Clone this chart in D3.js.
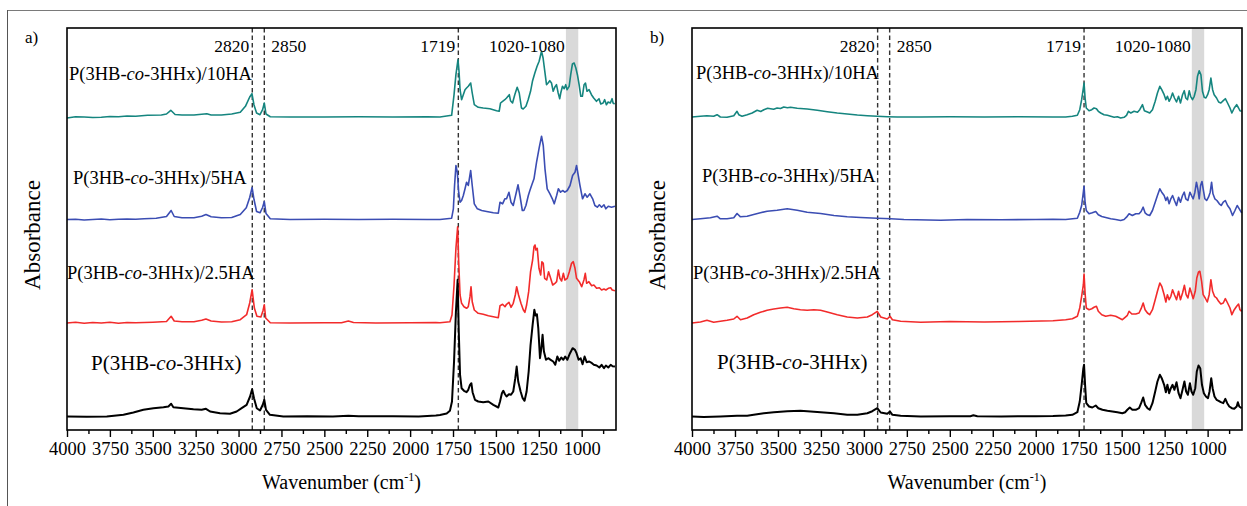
<!DOCTYPE html>
<html>
<head>
<meta charset="utf-8">
<script src="https://cdn.jsdelivr.net/npm/d3@7"></script>
<style>
  body { margin: 0; background: #fff; }
  svg { display: block; }
  text { font-family: "Liberation Serif", "Times New Roman", serif; fill: #000; }
</style>
</head>
<body>
<svg id="chart" width="1247" height="506"></svg>
<script>
// ---------- FTIR spectra: [wavenumber (cm-1), absorbance (a.u., baseline-corrected)] ----------

// a) films
const aNeat = [[4000,0],[3885,-0.003],[3768,0],[3671,0.017],[3613,0.04],[3555,0.067],[3496,0.083],[3438,0.093],[3409,0.1],[3393,0.127],[3380,0.093],[3322,0.083],[3263,0.073],[3215,0.067],[3190,0.077],[3166,0.05],[3108,0.033],[3050,0.027],[3011,0.05],[2982,0.083],[2953,0.117],[2933,0.2],[2921,0.273],[2910,0.183],[2894,0.083],[2875,0.06],[2859,0.117],[2850,0.167],[2840,0.067],[2817,0.017],[2739,0],[2600,0.003],[2450,0],[2360,0.008],[2300,0.002],[2100,0.003],[1950,0],[1850,0.01],
  [1826,0.015],[1787,0.03],[1768,0.057],[1756,0.15],[1744,0.55],[1733,1.05],[1723,1.367],[1717,0.883],[1709,0.417],[1700,0.283],[1686,0.257],[1671,0.243],[1661,0.267],[1651,0.317],[1643,0.333],[1636,0.243],[1622,0.167],[1603,0.15],[1574,0.143],[1544,0.15],[1515,0.117],[1486,0.09],[1476,0.15],[1465,0.233],[1457,0.257],[1447,0.223],[1438,0.2],[1424,0.223],[1412,0.217],[1399,0.25],[1387,0.383],[1379,0.5],[1370,0.35],[1356,0.25],[1344,0.183],[1333,0.157],[1321,0.25],[1309,0.45],[1298,0.717],[1286,0.917],[1276,1.067],[1269,1.01],[1261,1.023],[1253,0.883],[1243,0.583],[1235,0.683],[1228,0.817],[1220,0.65],[1208,0.567],[1195,0.583],[1181,0.567],[1166,0.55],[1154,0.517],[1142,0.6],[1131,0.557],[1119,0.59],[1107,0.567],[1096,0.6],[1084,0.567],[1068,0.633],[1053,0.683],[1039,0.667],[1030,0.633],[1018,0.567],[1006,0.583],[995,0.523],[983,0.6],[971,0.543],[956,0.55],[940,0.533],[929,0.517],[913,0.51],[897,0.49],[884,0.517],[870,0.483],[859,0.51],[845,0.49],[831,0.517],[820,0.503],[806,0.5]];

const aHA25 = [[4000,0],[3950,0.007],[3900,-0.003],[3850,0.005],[3800,0],[3750,0.007],[3700,-0.003],[3650,0.005],[3600,0.003],[3500,0.008],[3420,0.015],[3393,0.067],[3375,0.02],[3330,0.013],[3260,0.013],[3215,0.027],[3190,0.04],[3160,0.02],[3100,0.01],[3040,0.012],[2990,0.033],[2953,0.083],[2935,0.2],[2921,0.333],[2908,0.15],[2893,0.067],[2870,0.06],[2858,0.12],[2850,0.183],[2842,0.05],[2815,0.003],[2700,0],[2500,0.003],[2400,0.003],[2360,0.02],[2330,0.005],[2200,0],[2000,0.003],[1850,0.005],
  [1826,0.003],[1768,0.013],[1756,0.08],[1744,0.38],[1733,0.747],[1723,0.963],[1717,0.613],[1709,0.28],[1700,0.197],[1686,0.163],[1671,0.147],[1661,0.163],[1651,0.263],[1645,0.363],[1638,0.213],[1626,0.13],[1603,0.097],[1574,0.087],[1544,0.073],[1515,0.063],[1486,0.053],[1476,0.173],[1461,0.187],[1447,0.163],[1438,0.187],[1424,0.207],[1412,0.157],[1399,0.197],[1387,0.28],[1379,0.363],[1368,0.28],[1354,0.197],[1340,0.13],[1331,0.107],[1321,0.18],[1309,0.313],[1298,0.513],[1286,0.63],[1278,0.763],[1272,0.78],[1267,0.73],[1259,0.747],[1249,0.547],[1239,0.48],[1232,0.613],[1224,0.597],[1216,0.447],[1204,0.43],[1193,0.513],[1181,0.447],[1169,0.38],[1156,0.397],[1146,0.413],[1136,0.53],[1127,0.447],[1117,0.42],[1107,0.497],[1098,0.43],[1084,0.447],[1072,0.513],[1059,0.597],[1049,0.613],[1039,0.547],[1030,0.447],[1014,0.413],[1000,0.363],[987,0.43],[979,0.497],[971,0.397],[958,0.413],[942,0.373],[929,0.38],[913,0.347],[897,0.353],[884,0.33],[870,0.34],[859,0.33],[845,0.347],[831,0.353],[822,0.33],[806,0.323]];

const aHA5 = [[4000,0],[3950,0.003],[3900,-0.005],[3850,0],[3800,0.005],[3750,-0.003],[3700,0.003],[3650,0.005],[3600,0.003],[3550,0.008],[3480,0.013],[3420,0.03],[3393,0.09],[3375,0.03],[3330,0.017],[3260,0.017],[3215,0.033],[3190,0.05],[3160,0.027],[3100,0.017],[3040,0.02],[2990,0.05],[2955,0.117],[2935,0.22],[2921,0.32],[2910,0.2],[2895,0.08],[2875,0.067],[2860,0.12],[2850,0.18],[2840,0.06],[2815,0.007],[2700,0],[2500,0.003],[2300,0],[2100,0.003],[1900,0],
  [1826,0],[1758,0.013],[1748,0.107],[1741,0.34],[1733,0.54],[1725,0.473],[1717,0.273],[1709,0.173],[1700,0.19],[1690,0.24],[1680,0.307],[1671,0.373],[1661,0.34],[1647,0.49],[1638,0.34],[1626,0.157],[1608,0.107],[1583,0.09],[1554,0.08],[1515,0.067],[1486,0.063],[1476,0.173],[1461,0.157],[1448,0.207],[1438,0.207],[1424,0.273],[1412,0.173],[1399,0.14],[1383,0.257],[1371,0.347],[1360,0.24],[1346,0.09],[1337,0.09],[1325,0.14],[1311,0.24],[1302,0.29],[1292,0.34],[1278,0.407],[1263,0.573],[1247,0.723],[1234,0.833],[1224,0.74],[1214,0.507],[1201,0.307],[1185,0.257],[1171,0.207],[1160,0.157],[1146,0.24],[1136,0.307],[1123,0.273],[1111,0.29],[1098,0.273],[1084,0.29],[1068,0.34],[1053,0.44],[1039,0.473],[1030,0.54],[1020,0.44],[1010,0.34],[995,0.207],[981,0.257],[968,0.223],[952,0.257],[936,0.207],[923,0.14],[909,0.123],[897,0.147],[884,0.123],[870,0.147],[859,0.107],[845,0.133],[826,0.123],[806,0.133]];

const aHA10 = [[4000,-0.01],[3950,0.003],[3900,0],[3850,-0.005],[3800,-0.003],[3750,0.005],[3700,0.003],[3650,0.01],[3600,0.007],[3530,0.017],[3450,0.02],[3420,0.03],[3395,0.067],[3370,0.025],[3330,0.02],[3260,0.02],[3200,0.03],[3185,0.033],[3160,0.02],[3100,0.02],[3040,0.03],[2990,0.047],[2960,0.107],[2935,0.2],[2922,0.233],[2910,0.12],[2895,0.04],[2875,0.023],[2860,0.073],[2850,0.14],[2840,0.03],[2815,0.003],[2700,0],[2500,0],[2300,0.003],[2100,0],[1900,0.003],
  [1826,0],[1758,0.017],[1744,0.223],[1733,0.423],[1721,0.573],[1715,0.457],[1709,0.273],[1700,0.173],[1690,0.223],[1680,0.273],[1671,0.29],[1661,0.307],[1647,0.34],[1638,0.24],[1626,0.123],[1603,0.097],[1574,0.09],[1535,0.083],[1496,0.063],[1481,0.057],[1473,0.14],[1461,0.157],[1448,0.173],[1438,0.19],[1422,0.223],[1415,0.163],[1403,0.14],[1390,0.223],[1376,0.297],[1364,0.24],[1351,0.09],[1341,0.08],[1325,0.107],[1312,0.173],[1298,0.257],[1287,0.357],[1273,0.44],[1260,0.507],[1248,0.557],[1234,0.657],[1225,0.59],[1215,0.457],[1205,0.323],[1196,0.34],[1186,0.363],[1176,0.34],[1166,0.257],[1157,0.297],[1147,0.323],[1137,0.24],[1128,0.183],[1122,0.24],[1112,0.307],[1102,0.283],[1093,0.323],[1085,0.273],[1073,0.307],[1064,0.423],[1054,0.53],[1044,0.54],[1034,0.49],[1025,0.423],[1015,0.323],[1005,0.207],[996,0.207],[986,0.323],[978,0.34],[969,0.257],[957,0.273],[943,0.223],[930,0.19],[914,0.157],[899,0.183],[889,0.13],[875,0.14],[866,0.173],[856,0.123],[846,0.15],[833,0.14],[823,0.183],[817,0.14],[808,0.13]];

// b) second set of samples
const bNeat = [[4000,0],[3932,-0.005],[3835,0],[3738,0.007],[3679,0.007],[3641,0.017],[3582,0.033],[3524,0.043],[3446,0.053],[3369,0.057],[3310,0.05],[3252,0.043],[3174,0.033],[3097,0.017],[3038,0.017],[2980,0.033],[2951,0.053],[2922,0.083],[2902,0.04],[2864,0.027],[2848,0.05],[2834,0.017],[2786,0.007],[2669,0],[2500,0.003],[2380,0.003],[2363,0.012],[2340,0.002],[2200,0],[2000,0.003],[1900,0.005],
  [1826,0.01],[1787,0.017],[1758,0.043],[1744,0.15],[1733,0.317],[1723,0.483],[1719,0.517],[1713,0.317],[1706,0.133],[1690,0.1],[1671,0.09],[1651,0.11],[1636,0.083],[1612,0.067],[1583,0.057],[1554,0.05],[1525,0.043],[1496,0.033],[1480,0.043],[1467,0.067],[1453,0.09],[1438,0.067],[1418,0.067],[1399,0.083],[1387,0.133],[1375,0.19],[1364,0.117],[1350,0.083],[1337,0.067],[1321,0.133],[1305,0.25],[1292,0.35],[1278,0.417],[1267,0.383],[1253,0.317],[1243,0.243],[1234,0.317],[1224,0.233],[1214,0.283],[1204,0.317],[1193,0.267],[1181,0.343],[1169,0.233],[1158,0.183],[1146,0.267],[1135,0.35],[1125,0.25],[1115,0.217],[1103,0.333],[1094,0.25],[1084,0.217],[1072,0.283],[1063,0.45],[1053,0.51],[1043,0.483],[1033,0.317],[1022,0.233],[1010,0.2],[998,0.183],[989,0.25],[979,0.383],[971,0.283],[960,0.2],[948,0.167],[936,0.157],[923,0.143],[909,0.133],[897,0.177],[886,0.133],[874,0.1],[859,0.083],[845,0.077],[831,0.1],[824,0.143],[816,0.1],[802,0.083]];

const bHA25 = [[4000,0],[3951,0.01],[3913,0.027],[3874,0.007],[3835,0.017],[3796,0.027],[3757,0.04],[3738,0.067],[3718,0.033],[3679,0.05],[3641,0.083],[3602,0.107],[3563,0.127],[3524,0.14],[3485,0.15],[3446,0.157],[3408,0.143],[3369,0.133],[3330,0.127],[3291,0.133],[3252,0.127],[3213,0.11],[3155,0.083],[3097,0.06],[3038,0.05],[2980,0.06],[2951,0.083],[2922,0.117],[2902,0.06],[2864,0.04],[2848,0.067],[2834,0.033],[2786,0.017],[2669,0.007],[2500,0.015],[2300,0.01],[2100,0.015],[1900,0.022],
  [1826,0.033],[1787,0.043],[1758,0.067],[1744,0.15],[1733,0.267],[1723,0.383],[1719,0.49],[1713,0.3],[1706,0.15],[1690,0.133],[1674,0.143],[1661,0.157],[1647,0.167],[1636,0.117],[1616,0.083],[1593,0.067],[1564,0.077],[1535,0.067],[1515,0.05],[1496,0.033],[1480,0.057],[1467,0.077],[1457,0.117],[1441,0.09],[1418,0.09],[1399,0.1],[1387,0.143],[1375,0.2],[1364,0.133],[1350,0.1],[1337,0.083],[1321,0.133],[1305,0.233],[1292,0.317],[1278,0.4],[1267,0.367],[1253,0.283],[1243,0.21],[1234,0.283],[1224,0.233],[1214,0.267],[1204,0.333],[1193,0.283],[1181,0.233],[1169,0.317],[1158,0.233],[1146,0.3],[1135,0.377],[1125,0.283],[1115,0.25],[1103,0.35],[1094,0.3],[1084,0.243],[1072,0.317],[1063,0.45],[1053,0.51],[1045,0.517],[1035,0.417],[1026,0.283],[1014,0.25],[1002,0.21],[991,0.283],[981,0.433],[971,0.317],[960,0.267],[948,0.25],[936,0.217],[923,0.19],[909,0.2],[897,0.243],[884,0.2],[870,0.15],[859,0.083],[845,0.133],[831,0.167],[820,0.19],[812,0.133],[802,0.117]];

const bHA5 = [[4000,0],[3951,0.007],[3893,0.017],[3854,0.033],[3835,0.007],[3796,0.007],[3757,0.017],[3738,0.06],[3718,0.027],[3679,0.033],[3641,0.05],[3602,0.067],[3563,0.083],[3505,0.093],[3446,0.107],[3388,0.093],[3330,0.073],[3252,0.06],[3174,0.04],[3097,0.027],[3019,0.02],[2922,0.013],[2844,0.007],[2767,0],[2553,-0.007],[2400,0],[2200,-0.003],[2000,0],[1900,0.003],
  [1826,0],[1758,0.013],[1744,0.073],[1733,0.14],[1723,0.273],[1719,0.333],[1713,0.173],[1706,0.09],[1690,0.057],[1671,0.067],[1651,0.08],[1636,0.047],[1616,0.03],[1593,0.02],[1564,0.007],[1535,0],[1506,-0.01],[1486,0],[1472,0.023],[1457,0.057],[1438,0.04],[1418,0.057],[1399,0.057],[1387,0.08],[1375,0.123],[1364,0.067],[1350,0.047],[1337,0.04],[1321,0.09],[1305,0.173],[1292,0.24],[1278,0.307],[1267,0.273],[1253,0.24],[1243,0.19],[1234,0.223],[1224,0.157],[1214,0.207],[1204,0.24],[1193,0.19],[1181,0.14],[1169,0.223],[1158,0.173],[1146,0.24],[1136,0.273],[1127,0.207],[1115,0.19],[1103,0.273],[1094,0.24],[1084,0.207],[1074,0.273],[1065,0.373],[1057,0.307],[1049,0.207],[1041,0.34],[1033,0.38],[1026,0.307],[1016,0.207],[1006,0.19],[995,0.223],[985,0.273],[977,0.373],[969,0.257],[958,0.207],[946,0.19],[932,0.157],[921,0.14],[909,0.173],[897,0.19],[884,0.14],[870,0.107],[855,0.04],[841,0.09],[828,0.14],[816,0.107],[802,0.067]];

const bHA10 = [[4000,0],[3951,0.007],[3913,0.013],[3874,0.007],[3854,0.023],[3835,0],[3796,-0.003],[3757,0.013],[3738,0.057],[3728,0.023],[3709,0.007],[3679,0.023],[3650,0.04],[3621,0.067],[3600,0.055],[3582,0.073],[3560,0.088],[3543,0.083],[3525,0.078],[3505,0.09],[3485,0.085],[3466,0.1],[3445,0.093],[3427,0.097],[3388,0.087],[3330,0.08],[3271,0.067],[3213,0.053],[3155,0.04],[3097,0.03],[3038,0.02],[2980,0.013],[2922,0.007],[2864,0.003],[2805,0],[2669,0],[2500,0.003],[2300,0],[2100,0.003],[1900,0],
  [1826,0],[1787,0.007],[1758,0.017],[1744,0.073],[1733,0.173],[1723,0.29],[1719,0.34],[1713,0.19],[1706,0.09],[1690,0.063],[1674,0.073],[1661,0.09],[1647,0.083],[1636,0.057],[1622,0.04],[1603,0.023],[1583,0.017],[1564,0.007],[1544,-0.003],[1525,0.003],[1506,-0.01],[1486,-0.003],[1472,0.017],[1461,0.057],[1447,0.04],[1428,0.057],[1408,0.047],[1395,0.073],[1379,0.123],[1368,0.063],[1350,0.05],[1337,0.04],[1321,0.073],[1305,0.157],[1292,0.24],[1278,0.307],[1267,0.273],[1253,0.223],[1243,0.173],[1234,0.207],[1224,0.157],[1214,0.19],[1204,0.24],[1193,0.19],[1181,0.15],[1169,0.207],[1158,0.14],[1146,0.223],[1136,0.263],[1127,0.19],[1117,0.173],[1107,0.263],[1099,0.207],[1088,0.173],[1078,0.207],[1068,0.273],[1059,0.407],[1049,0.463],[1039,0.423],[1030,0.257],[1020,0.197],[1010,0.19],[1000,0.223],[991,0.273],[981,0.39],[971,0.273],[962,0.223],[948,0.19],[936,0.15],[923,0.14],[909,0.163],[897,0.183],[884,0.14],[870,0.09],[859,0.04],[845,0.09],[831,0.123],[820,0.09],[812,0.063],[802,0.057]];

// ---------- labels, ticks, markers ----------
const sampleNames = ["P(3HB-co-3HHx)", "P(3HB-co-3HHx)/2.5HA", "P(3HB-co-3HHx)/5HA", "P(3HB-co-3HHx)/10HA"];
const sampleColors = ["#000000", "#f22b2b", "#3b4db3", "#15857f"];
const stackOffsets = [0.135, 1.07, 2.105, 3.13];   // vertical offset for each stacked trace
const majorTicks = [4000, 3750, 3500, 3250, 3000, 2750, 2500, 2250, 2000, 1750, 1500, 1250, 1000];
const minorTicks = [3875, 3625, 3375, 3125, 2875, 2625, 2375, 2125, 1875, 1625, 1375, 1125, 875];
const bandMarkers = [2920, 2850, 1719];              // dashed guide lines
const bandLabels = ["2820", "2850", "1719"];
const shadedRegion = [1092, 1020];
const shadedLabel = "1020-1080";

const panels = [
  { tag: "a)", series: [aNeat, aHA25, aHA5, aHA10], left: 67, right: 616,
    nameX: [91, 67, 73, 69], nameY: [370, 279, 184, 80] },
  { tag: "b)", series: [bNeat, bHA25, bHA5, bHA10], left: 692, right: 1242,
    nameX: [717, 693, 702, 696], nameY: [369, 279, 182, 79] }
];
const plotTop = 28, plotBottom = 430;

const svg = d3.select("#chart");

// page border lines
svg.append("line").attr("x1", 7).attr("x2", 1247).attr("y1", 10.5).attr("y2", 10.5)
  .attr("stroke", "#7a7a7a").attr("stroke-width", 1);
svg.append("line").attr("x1", 7.5).attr("x2", 7.5).attr("y1", 10).attr("y2", 506)
  .attr("stroke", "#555").attr("stroke-width", 1);

panels.forEach(p => {
  const g = svg.append("g");
  const x = d3.scaleLinear().domain([4000, 800]).range([p.left, p.right]);
  const y = d3.scaleLinear().domain([0, 4.02]).range([plotBottom, plotTop]);

  // shaded band
  g.append("rect")
    .attr("x", x(shadedRegion[0])).attr("width", x(shadedRegion[1]) - x(shadedRegion[0]))
    .attr("y", plotTop).attr("height", plotBottom - plotTop)
    .attr("fill", "#d9d9d9");

  // dashed guide lines
  bandMarkers.forEach(v => {
    g.append("line")
      .attr("x1", x(v)).attr("x2", x(v)).attr("y1", plotTop).attr("y2", plotBottom)
      .attr("stroke", "#333").attr("stroke-width", 1.4).attr("stroke-dasharray", "4.5,3");
  });

  // spectra
  p.series.forEach((s, i) => {
    const line = d3.line().x(d => x(d[0])).y(d => y(d[1] + stackOffsets[i]));
    g.append("path").datum(s)
      .attr("fill", "none")
      .attr("stroke", sampleColors[i])
      .attr("stroke-width", i === 0 ? 2 : 1.6)
      .attr("stroke-linejoin", "round")
      .attr("d", line);
  });

  // frame
  g.append("rect")
    .attr("x", p.left).attr("y", plotTop).attr("width", p.right - p.left).attr("height", plotBottom - plotTop)
    .attr("fill", "none").attr("stroke", "#000").attr("stroke-width", 1.6);

  // bottom axis
  const axis = d3.axisBottom(x).tickValues(majorTicks).tickSize(7).tickPadding(5).tickFormat(d3.format("d"));
  const ag = g.append("g").attr("transform", `translate(0,${plotBottom})`).call(axis);
  ag.attr("font-size", 18.5).attr("font-family", "Liberation Serif");
  ag.select(".domain").remove();
  ag.selectAll(".tick line").attr("stroke", "#000").attr("stroke-width", 1.4);
  ag.selectAll(".tick text").attr("fill", "#000");
  const minor = d3.axisBottom(x).tickValues(minorTicks).tickSize(4).tickFormat("");
  const mg = g.append("g").attr("transform", `translate(0,${plotBottom})`).call(minor);
  mg.select(".domain").remove();
  mg.selectAll(".tick line").attr("stroke", "#000").attr("stroke-width", 1.4);

  // marker annotations
  g.append("text").attr("x", x(bandMarkers[0]) - 3).attr("y", 51.5).attr("text-anchor", "end")
    .attr("font-size", 17.5).text(bandLabels[0]);
  g.append("text").attr("x", x(bandMarkers[1]) + 7).attr("y", 51.5)
    .attr("font-size", 17.5).text(bandLabels[1]);
  g.append("text").attr("x", x(bandMarkers[2]) - 3).attr("y", 51.5).attr("text-anchor", "end")
    .attr("font-size", 17.5).text(bandLabels[2]);
  g.append("text").attr("x", x(shadedRegion[0]) - 77).attr("y", 51.5)
    .attr("font-size", 17.5).text(shadedLabel);

  // sample names, "co" in italics
  sampleNames.forEach((name, i) => {
    const [pre, rest] = name.split("-co-");
    const t = g.append("text").attr("x", p.nameX[i]).attr("y", p.nameY[i])
      .attr("font-size", i === 0 ? 21 : 18.5);
    t.append("tspan").text(pre + "-");
    t.append("tspan").attr("font-style", "italic").text("co");
    t.append("tspan").text("-" + rest);
  });

  // panel tag
  g.append("text").attr("x", p.left - 42).attr("y", 43).attr("font-size", 17).text(p.tag);

  // axis titles
  g.append("text")
    .attr("transform", `translate(${p.left - 27},235) rotate(-90)`)
    .attr("text-anchor", "middle").attr("font-size", 23).text("Absorbance");
  const xt = g.append("text")
    .attr("x", (p.left + p.right) / 2).attr("y", 489)
    .attr("text-anchor", "middle").attr("font-size", 20);
  xt.append("tspan").text("Wavenumber (cm");
  xt.append("tspan").attr("font-size", 12).attr("dy", -8).text("-1");
  xt.append("tspan").attr("dy", 8).text(")");
});
</script>
</body>
</html>
